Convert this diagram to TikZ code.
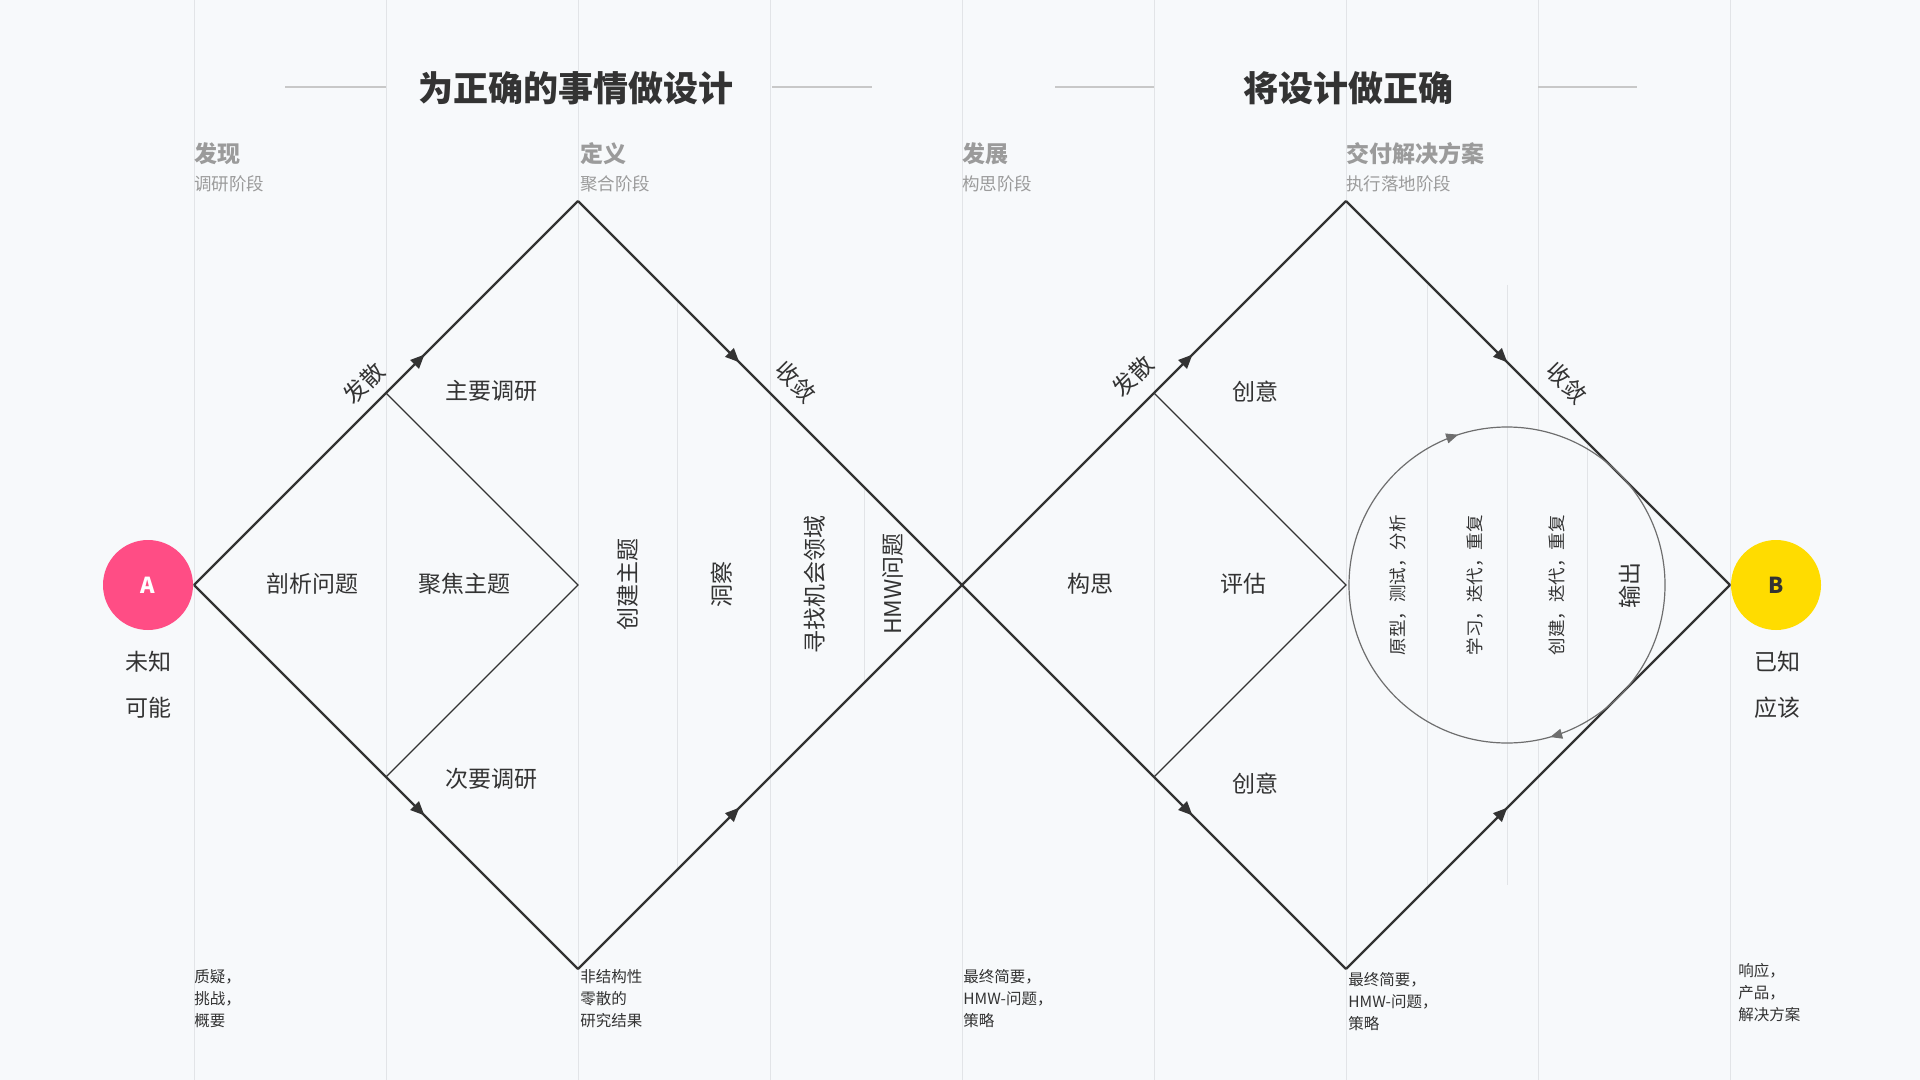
\documentclass[tikz,border=0pt]{standalone}
\usepackage{fontspec}
\setmainfont{Noto Sans CJK SC}
\usetikzlibrary{arrows.meta,decorations.markings}

\definecolor{bgcol}{HTML}{F7F9FB}
\definecolor{gridcol}{HTML}{E2E4E7}
\definecolor{ink}{HTML}{333333}
\definecolor{phasegray}{HTML}{9B9B9B}
\definecolor{rulegray}{HTML}{C8C8C8}
\definecolor{loopgray}{HTML}{6E6E6E}
\definecolor{pinkA}{HTML}{FF4D85}
\definecolor{yellowB}{HTML}{FFDC00}

\tikzset{
    gridline/.style={gridcol,line width=0.5pt},
    titlerule/.style={rulegray,line width=0.9pt},
    edge/.style={ink,line width=1.1pt},
    inneredge/.style={ink,line width=0.55pt},
    midarrow/.style={postaction={decorate},decoration={markings,
        mark=at position #1 with {\arrow{Triangle[length=7pt,width=6pt]}}}},
    bigtitle/.style={text=ink,inner sep=0pt,font=\fontsize{17.5}{21}\selectfont\bfseries},
    phasehead/.style={text=phasegray,anchor=west,inner sep=0pt,font=\fontsize{11.5}{14}\selectfont\bfseries},
    phasesub/.style={text=phasegray,anchor=west,inner sep=0pt,font=\fontsize{8.75}{11}\selectfont},
    stagetext/.style={text=ink,inner sep=0pt,font=\fontsize{11.5}{14}\selectfont},
    looptext/.style={text=ink,inner sep=0pt,rotate=90,font=\fontsize{8.75}{11}\selectfont},
    notetext/.style={text=ink,anchor=north west,align=left,inner sep=0pt,font=\fontsize{7.75}{11}\selectfont},
    endpoint/.style={circle,minimum size=45pt,inner sep=0pt,font=\fontsize{11}{13}\selectfont\bfseries},
}

\begin{document}
\begin{tikzpicture}[x=0.5pt,y=-0.5pt]
    % Canvas
    \fill[bgcol] (0,0) rectangle (1920,1080);
    \useasboundingbox (0,0) rectangle (1920,1080);

    % Column grid
    \foreach \x in {194,386,...,1730}
        \draw[gridline] (\x,0) -- (\x,1080);

    % Diamond corners
    \coordinate (d1w) at (194,585);
    \coordinate (d1n) at (578,201);
    \coordinate (d1s) at (578,969);
    \coordinate (mid) at (962,585);
    \coordinate (d2n) at (1346,201);
    \coordinate (d2s) at (1346,969);
    \coordinate (d2e) at (1730,585);
    \coordinate (i1n) at (386,393);
    \coordinate (i1e) at (578,585);
    \coordinate (i1s) at (386,777);
    \coordinate (i2n) at (1154,393);
    \coordinate (i2e) at (1346,585);
    \coordinate (i2s) at (1154,777);
    \coordinate (loopc) at (1507,585);

    % Loop area hides the grid
    \fill[bgcol] (loopc) circle (158);

    % Sub-columns inside the diamonds
    \foreach \x/\ya/\yb in {677/300/870, 864/488/682, 1427/285/885, 1507/285/885, 1587/445/725}
        \draw[gridline] (\x,\ya) -- (\x,\yb);

    % Titles
    \node[bigtitle] (t1) at (576,88) {为正确的事情做设计};
    \node[bigtitle] (t2) at (1348,88) {将设计做正确};
    \draw[titlerule] (285,87) -- (386,87);
    \draw[titlerule] (772,87) -- (872,87);
    \draw[titlerule] (1055,87) -- (1154,87);
    \draw[titlerule] (1538,87) -- (1637,87);

    % Phases
    \foreach \x/\head/\sub in {194/发现/调研阶段, 580/定义/聚合阶段, 962/发展/构思阶段, 1346/交付解决方案/执行落地阶段} {
        \node[phasehead] (head\x) at (\x,154) {\head};
        \node[phasesub] (sub\x) at (\x,184) {\sub};
    }

    % Double diamond
    \foreach \w/\n/\s/\e in {d1w/d1n/d1s/mid, mid/d2n/d2s/d2e} {
        \draw[edge,midarrow=0.6] (\w) -- (\n);
        \draw[edge,midarrow=0.42] (\n) -- (\e);
        \draw[edge,midarrow=0.6] (\w) -- (\s);
        \draw[edge,midarrow=0.42] (\s) -- (\e);
    }
    \draw[inneredge] (i1n) -- (i1e) -- (i1s);
    \draw[inneredge] (i2n) -- (i2e) -- (i2s);

    % Iteration loop
    \draw[loopgray,line width=0.6pt,postaction={decorate},decoration={markings,
        mark=at position 0.206 with {\arrow{Triangle[length=6pt,width=5pt]}},
        mark=at position 0.7 with {\arrow{Triangle[length=6pt,width=5pt]}}}]
        (loopc) circle (158);

    % Start and end
    \node[endpoint,fill=pinkA,text=white] (A) at (148,585) {A};
    \node[endpoint,fill=yellowB,text=ink] (B) at (1776,585) {B};
    \node[stagetext] (a1) at (148,662) {未知};
    \node[stagetext] (a2) at (148,708) {可能};
    \node[stagetext] (b1) at (1777,662) {已知};
    \node[stagetext] (b2) at (1777,708) {应该};

    % First diamond labels
    \node[stagetext,rotate=45] (div1) at (364,383) {发散};
    \node[stagetext,rotate=-45] (con1) at (796,382) {收敛};
    \node[stagetext] (s1) at (491,391) {主要调研};
    \node[stagetext] (s2) at (312,584) {剖析问题};
    \node[stagetext] (s3) at (464,584) {聚焦主题};
    \node[stagetext] (s4) at (491,779) {次要调研};
    \node[stagetext,rotate=90] (s5) at (628,584) {创建主题};
    \node[stagetext,rotate=90] (s6) at (722,584) {洞察};
    \node[stagetext,rotate=90] (s7) at (815,584) {寻找机会领域};
    \node[stagetext,rotate=90] (s8) at (893,584) {HMW问题};

    % Second diamond labels
    \node[stagetext,rotate=45] (div2) at (1133,376) {发散};
    \node[stagetext,rotate=-45] (con2) at (1567,383) {收敛};
    \node[stagetext] (r1) at (1255,392) {创意};
    \node[stagetext] (r2) at (1090,584) {构思};
    \node[stagetext] (r3) at (1243,584) {评估};
    \node[stagetext] (r4) at (1255,784) {创意};
    \node[looptext] (l1) at (1398,585) {原型，测试，分析};
    \node[looptext] (l2) at (1475,585) {学习，迭代，重复};
    \node[looptext] (l3) at (1557,585) {创建，迭代，重复};
    \node[stagetext,rotate=90] (out) at (1630,585) {输出};

    % Notes
    \node[notetext] (n1) at (194,969) {质疑，\\挑战，\\概要};
    \node[notetext] (n2) at (580,969) {非结构性\\零散的\\研究结果};
    \node[notetext] (n3) at (963,969) {最终简要，\\HMW-问题，\\策略};
    \node[notetext] (n4) at (1348,972) {最终简要，\\HMW-问题，\\策略};
    \node[notetext] (n5) at (1738,963) {响应，\\产品，\\解决方案};
\end{tikzpicture}
\end{document}
